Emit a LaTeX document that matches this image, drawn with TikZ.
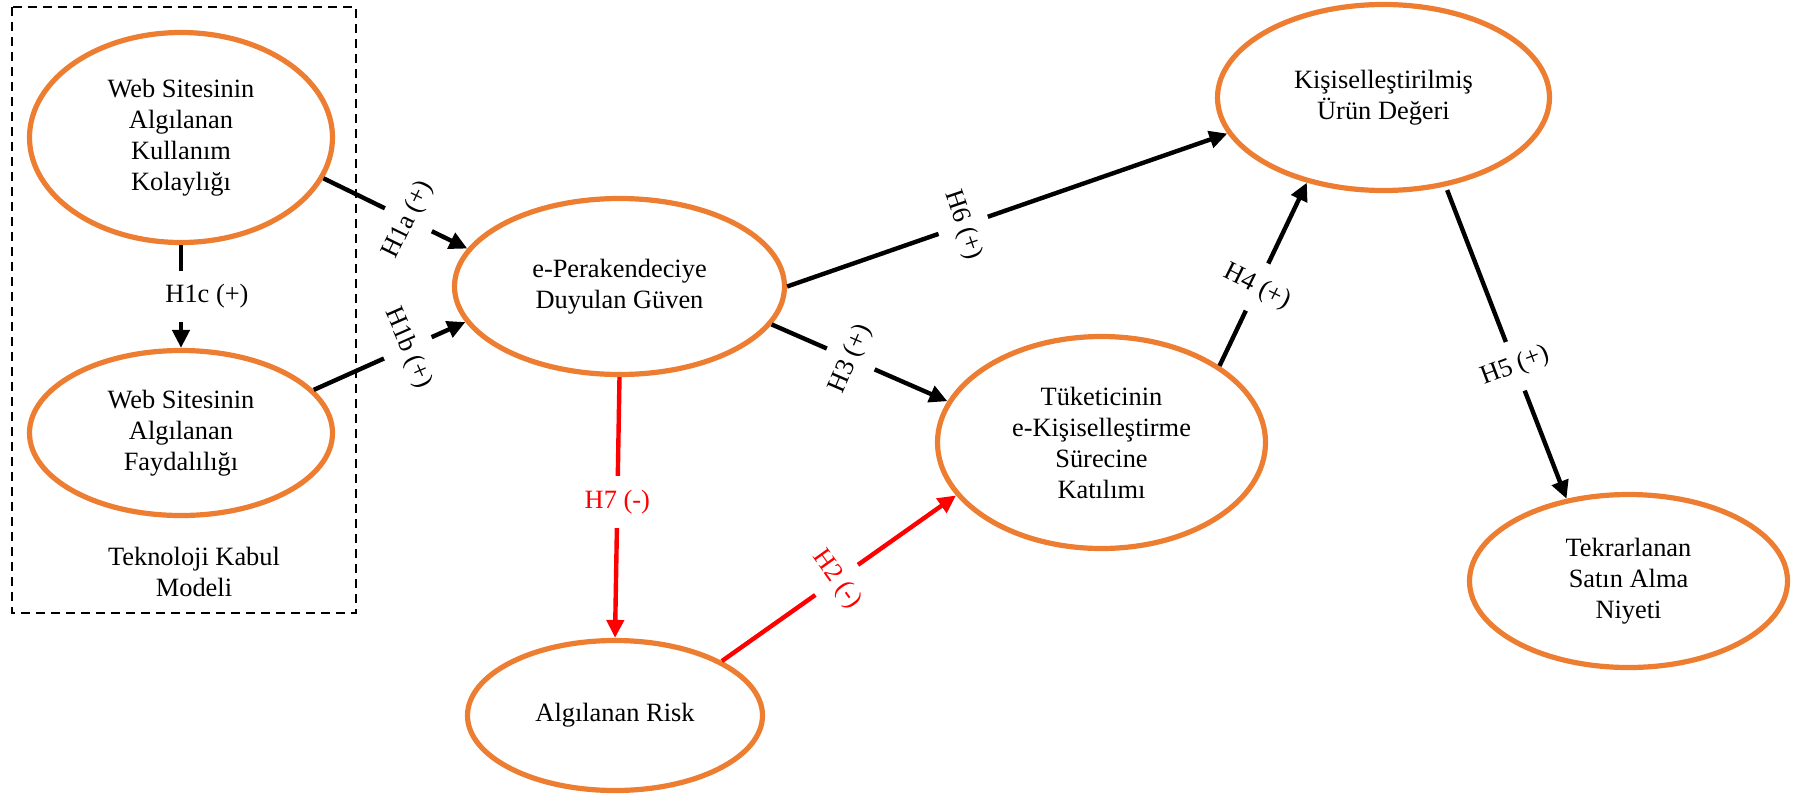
\documentclass[tikz,border=0pt]{standalone}
\usepackage{fontspec}
\setmainfont{Liberation Serif}
\usepackage{xcolor}
\usepackage{tikz}
\usetikzlibrary{shapes.geometric,arrows.meta}
\definecolor{tamorange}{HTML}{ED7D31}
\tikzset{construct it/.style={ellipse, draw=tamorange, line width=2.6pt, align=center}}
\tikzset{hyp it/.style={line width=2.2pt, -{Triangle[length=9pt,width=8.5pt]}}}
\tikzset{neg it/.style={hyp it, red}}
\tikzset{hyp label/.style={fill=white, inner xsep=1pt, inner ysep=7pt}}

\begin{document}
\begin{tikzpicture}[x=0.5pt,y=0.5pt]
	\tikzstyle{every node}+=[inner sep=0pt, font=\fontsize{13.2}{15.5}\selectfont]
	\useasboundingbox (0,0) rectangle (1793,-798);
	% technology acceptance model box
	\draw [black, line width=1pt, dash pattern=on 4.5pt off 3pt] (12,-7) rectangle (356,-613);
	\node (tam) at (194,-572) [align=center] {Teknoloji Kabul\\Modeli};
	% constructs
	\node (kol) at (181,-137.5) [construct it, minimum width=151.5pt, minimum height=105pt] {Web Sitesinin\\Algılanan\\Kullanım\\Kolaylığı};
	\node (fay) at (181,-433) [construct it, minimum width=151.5pt, minimum height=82.5pt] {Web Sitesinin\\Algılanan\\Faydalılığı};
	\node (guv) at (619.5,-286.5) [construct it, minimum width=165pt, minimum height=88pt] {e-Perakendeciye\\Duyulan Güven};
	\node (risk) at (615,-715.5) [construct it, minimum width=147.5pt, minimum height=75pt] {Algılanan Risk};
	\node (kat) at (1101.5,-442.5) [construct it, minimum width=164pt, minimum height=106pt] {Tüketicinin\\e-Kişiselleştirme\\Sürecine\\Katılımı};
	\node (deg) at (1383.5,-97.5) [construct it, minimum width=166pt, minimum height=93pt] {Kişiselleştirilmiş\\Ürün Değeri};
	\node (niy) at (1628.5,-581) [construct it, minimum width=159pt, minimum height=86.5pt] {Tekrarlanan\\Satın Alma\\Niyeti};
	% hypotheses
	\draw [hyp it] (kol.-16.3) -- node[hyp label, pos=0.59, rotate=64] {H1a (+)} (guv.166.5);
	\draw [hyp it] (fay.18) -- node[hyp label, pos=0.62, rotate=-66.4] {H1b (+)} (guv.193.5);
	\draw [hyp it] (kol.south) -- node[hyp label, xshift=13pt] {H1c (+)} (fay.north);
	\draw [neg it] (guv.south) -- node[hyp label, pos=0.48] {H7 (-)} (risk.north);
	\draw [neg it] (risk.27) -- node[hyp label, pos=0.49, rotate=-54.6] {H2 (-)} (kat.200);
	\draw [hyp it] (guv.-14.3) -- node[hyp label, pos=0.45, rotate=66.8] {H3 (+)} (kat.165.4);
	\draw [hyp it] (guv.east) -- node[hyp label, pos=0.40, rotate=-71.1] {H6 (+)} (deg.193.1);
	\draw [hyp it] (kat.33) -- node[hyp label, pos=0.43, rotate=-26.4] {H4 (+)} (deg.228.4);
	\draw [hyp it, shorten <=2pt] (deg.-55.7) -- node[hyp label, pos=0.576, rotate=20.7] {H5 (+)} (niy.127.6);
\end{tikzpicture}
\end{document}
